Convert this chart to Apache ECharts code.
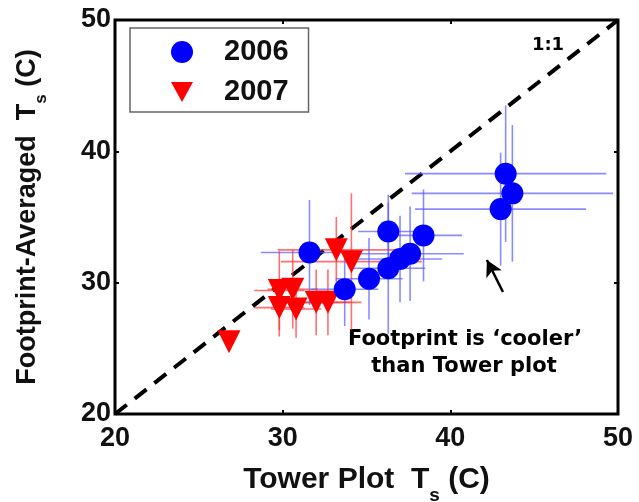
<!DOCTYPE html>
<html>
<head>
<meta charset="utf-8">
<script src="https://cdn.jsdelivr.net/npm/echarts@6/dist/echarts.min.js"></script>
<style>html,body{margin:0;padding:0;background:#fff}#c{width:639px;height:502px}</style>
</head>
<body>
<div id="c"></div>
<script>
// ---- data ----
const x2006 = [31.6, 33.7, 35.15, 36.3, 38.4, 36.3, 37.0, 37.6, 43.3, 43.7, 43.0];
const y2006 = [32.3, 29.5, 30.3, 33.9, 33.6, 31.1, 31.8, 32.2, 38.3, 36.8, 35.6];
const xerr2006 = [2.9, 2.0, 2.0, 1.8, 2.3, 2.2, 2.5, 3.2, 6.0, 6.0, 5.1];
const yerr2006 = [4.0, 2.8, 3.1, 2.8, 3.5, 5.0, 3.3, 3.6, 5.2, 5.2, 4.3];

const x2007 = [26.8, 29.8, 30.6, 29.8, 30.8, 32.0, 32.7, 33.2, 34.1];
const y2007 = [25.5, 29.4, 29.5, 28.1, 28.0, 28.5, 28.5, 32.5, 31.6];
const xerr2007 = [0, 1.5, 1.5, 1.5, 1.5, 2.0, 2.0, 3.5, 4.2];
const yerr2007 = [0, 3.0, 3.0, 2.2, 2.2, 2.5, 2.5, 2.5, 5.2];

const oneToOne = [[20, 20], [50, 50]];
const arrowTail = [43.14, 29.29];
const arrowHead = [42.18, 31.73];
const xTicks = [20, 30, 40, 50];
const yTicks = [20, 30, 40, 50];

const pts = (xs, ys) => xs.map((v, i) => [v, ys[i]]);
const errData = (xs, ys, xe, ye) => xs.map((v, i) => [v, ys[i], xe[i], ye[i]]);

function errRender(color) {
  return function (params, api) {
    const x = api.value(0), y = api.value(1), dx = api.value(2), dy = api.value(3);
    const children = [];
    if (dx > 0) {
      const a = api.coord([x - dx, y]), b = api.coord([x + dx, y]);
      children.push({type: 'line', shape: {x1: a[0], y1: a[1], x2: b[0], y2: b[1]},
        style: {stroke: color, lineWidth: 1.6}});
    }
    if (dy > 0) {
      const a = api.coord([x, y - dy]), b = api.coord([x, y + dy]);
      children.push({type: 'line', shape: {x1: a[0], y1: a[1], x2: b[0], y2: b[1]},
        style: {stroke: color, lineWidth: 1.6}});
    }
    return {type: 'group', children};
  };
}

const labelFont = {fontFamily: 'Liberation Sans', fontWeight: 'bold', fontSize: 27, color: '#111'};
const tri = 'path://M0,0L20,0L10,18Z';
const nameRich = (size) => ({
  a: Object.assign({}, labelFont, {fontSize: size, lineHeight: size}),
  s: Object.assign({}, labelFont, {fontSize: Math.round(size * 0.62), lineHeight: Math.round(size * 0.62), padding: [Math.round(size * 1.05), 0, 0, 0]})
});

const chart = echarts.init(document.getElementById('c'), null, {renderer: 'canvas'});
chart.setOption({
  animation: false,
  backgroundColor: '#fff',
  grid: {left: 115, top: 20, width: 503, height: 394, containLabel: false, outerBoundsMode: 'none',
    show: true, borderColor: '#000', borderWidth: 3, backgroundColor: 'transparent'},
  legend: {
    orient: 'vertical', left: 130, top: 28,
    data: [{name: '2006', icon: 'circle'}, {name: '2007', icon: tri}],
    itemWidth: 22, itemHeight: 22, itemGap: 10,
    padding: [9, 20, 5, 41],
    borderColor: '#666', borderWidth: 1.5, backgroundColor: '#fff',
    textStyle: {fontFamily: 'Liberation Sans', fontWeight: 'bold', fontSize: 29, lineHeight: 30, color: '#111', padding: [0, 0, 0, 26]}
  },
  xAxis: [{
    type: 'value', min: 20, max: 50, interval: 10,
    axisLine: {show: false}, splitLine: {show: false},
    axisTick: {show: true, inside: true, length: 4, lineStyle: {color: '#000', width: 2}},
    axisLabel: Object.assign({margin: 11, customValues: xTicks}, labelFont),
    name: '{a|Tower Plot  T}{s|s}{a| (C)}', nameLocation: 'middle', nameGap: 51, nameMoveOverlap: false,
    nameTextStyle: {rich: nameRich(30)}
  }, {
    type: 'value', min: 20, max: 50, interval: 10, position: 'top',
    axisLine: {show: false}, splitLine: {show: false}, axisLabel: {show: false},
    axisTick: {show: true, inside: true, length: 4, lineStyle: {color: '#000', width: 2}}
  }],
  yAxis: [{
    type: 'value', min: 20, max: 50, interval: 10,
    axisLine: {show: false}, splitLine: {show: false},
    axisTick: {show: true, inside: true, length: 4, lineStyle: {color: '#000', width: 2}},
    axisLabel: Object.assign({margin: 4, customValues: yTicks}, labelFont),
    name: '{a|Footprint-Averaged  T}{s|s}{a| (C)}', nameLocation: 'middle', nameGap: 74, nameMoveOverlap: false,
    nameTextStyle: {rich: nameRich(27)}
  }, {
    type: 'value', min: 20, max: 50, interval: 10, position: 'right',
    axisLine: {show: false}, splitLine: {show: false}, axisLabel: {show: false},
    axisTick: {show: true, inside: true, length: 4, lineStyle: {color: '#000', width: 2}}
  }],
  series: [
    {
      type: 'line', data: oneToOne, symbol: 'none', silent: true, z: 1,
      lineStyle: {color: '#000', width: 4, type: [15, 10]},
      markLine: {
        silent: true, symbol: ['none', 'arrow'], symbolSize: [13, 16],
        label: {show: false},
        lineStyle: {color: '#000', width: 2.5, type: 'solid'},
        data: [[{coord: arrowTail}, {coord: arrowHead}]]
      }
    },
    {type: 'custom', renderItem: errRender('rgba(255,50,50,0.7)'), data: errData(x2007, y2007, xerr2007, yerr2007), z: 2, encode: {x: 0, y: 1}},
    {type: 'custom', renderItem: errRender('rgba(90,90,255,0.7)'), data: errData(x2006, y2006, xerr2006, yerr2006), z: 2, encode: {x: 0, y: 1}},
    {name: '2007', type: 'scatter', data: pts(x2007, y2007), symbol: tri, symbolSize: [23, 23], itemStyle: {color: '#ff0000', opacity: 1}, z: 3},
    {name: '2006', type: 'scatter', data: pts(x2006, y2006), symbol: 'circle', symbolSize: 22, itemStyle: {color: '#0000ff', opacity: 1}, z: 4}
  ],
  graphic: [
    {type: 'text', x: 548, y: 45, style: {text: '1:1', font: 'bold 18px "DejaVu Sans"', fill: '#000', align: 'center', verticalAlign: 'middle'}},
    {type: 'text', x: 465, y: 340, style: {text: 'Footprint is ‘cooler’', font: 'bold 21px "DejaVu Sans"', fill: '#000', align: 'center', verticalAlign: 'middle'}},
    {type: 'text', x: 464, y: 367, style: {text: 'than Tower plot', font: 'bold 21px "DejaVu Sans"', fill: '#000', align: 'center', verticalAlign: 'middle'}}
  ]
});
</script>
</body>
</html>
